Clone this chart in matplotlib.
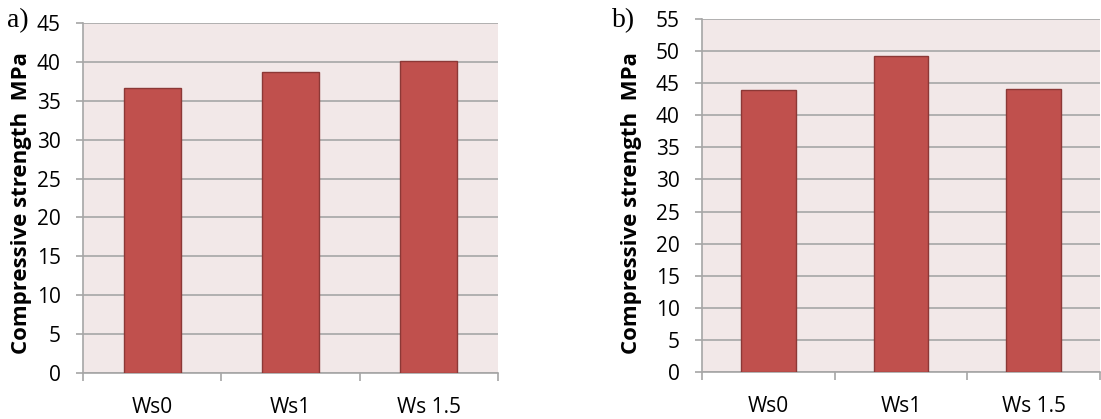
import matplotlib
matplotlib.use("Agg")
import matplotlib.pyplot as plt
from matplotlib.ticker import MultipleLocator, FixedLocator

categories = ["Ws0", "Ws1", "Ws 1.5"]
strength_a = [36.6, 38.7, 40.1]
strength_b = [43.9, 49.2, 44.1]
ylim_a = 45
ylim_b = 55
panel_labels = ["a)", "b)"]
ylabel = "Compressive strength  MPa"

BG = "#f2e8e8"
BAR = "#c0504d"
EDGE = "#8c3836"
GRID = "#a6a6a6"

plt.rcParams["font.family"] = ["Open Sans", "DejaVu Sans"]

fig = plt.figure(figsize=(11.01, 4.19), dpi=100)
W, H = 1101, 419


def panel(rect, values, ymax, tag, label_x, tag_x):
    x0, y0, x1, y1 = rect
    ax = fig.add_axes([x0 / W, 1 - y1 / H, (x1 - x0) / W, (y1 - y0) / H])
    ax.set_facecolor(BG)
    pos = range(len(categories))
    ax.bar(pos, values, width=0.41, color=BAR, edgecolor=EDGE, linewidth=1.0, zorder=3)
    ax.set_xlim(-0.5, len(categories) - 0.5)
    ax.set_ylim(0, ymax)
    ax.yaxis.set_major_locator(MultipleLocator(5))
    ax.grid(axis="y", color=GRID, linewidth=1.2, zorder=1)
    ax.set_axisbelow(True)
    for s in ["top", "right"]:
        ax.spines[s].set_visible(False)
    for s in ["left", "bottom"]:
        ax.spines[s].set_color(GRID)
        ax.spines[s].set_linewidth(1.2)
    ax.set_xticks(list(pos))
    ax.set_xticklabels(categories, fontsize=15)
    ax.tick_params(axis="x", which="major", length=0, pad=17)
    ax.xaxis.set_minor_locator(FixedLocator([i + 0.5 for i in range(-1, len(categories))]))
    ax.tick_params(axis="x", which="minor", length=6, width=1.2, color=GRID)
    ax.tick_params(axis="y", length=5, width=1.2, color=GRID, labelsize=15, pad=11)
    fig.text(label_x / W, 1 - 203 / H, ylabel, rotation=90, fontsize=16,
             fontweight="bold", ha="center", va="center")
    fig.text(tag_x / W, 1 - 21 / H, tag, fontsize=20, family="Liberation Serif",
             ha="left", va="center")
    return ax


panel((83, 23, 498, 373), strength_a, ylim_a, panel_labels[0], 22, 7)
panel((702, 19, 1100, 372), strength_b, ylim_b, panel_labels[1], 632, 612)

fig.savefig("out.png", dpi=100)
